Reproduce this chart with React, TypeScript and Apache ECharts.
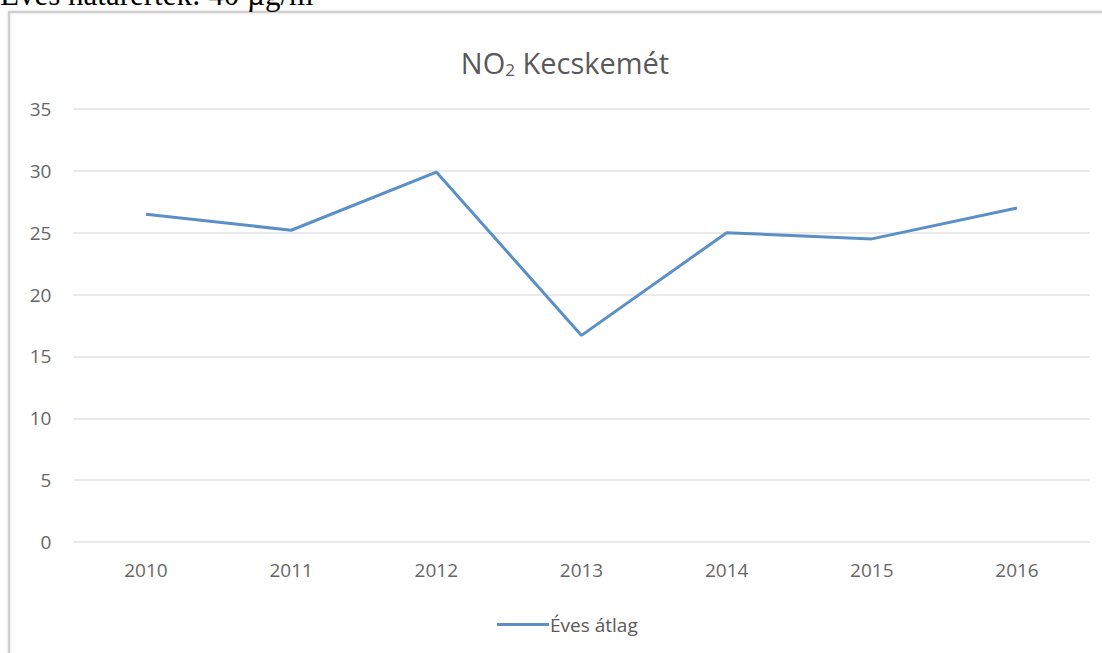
import React, { useEffect, useRef } from "react";
import * as echarts from "echarts";

const categories = ["2010", "2011", "2012", "2013", "2014", "2015", "2016"];
const evesAtlag = [26.5, 25.2, 29.9, 16.7, 25.0, 24.5, 27.0];
const yTicks = [0, 5, 10, 15, 20, 25, 30, 35];
const seriesName = "Éves átlag";
const headerText = "Éves határérték: 40 µg/m³";

export default function App() {
  const ref = useRef<HTMLDivElement>(null);
  useEffect(() => {
    if (!ref.current) return;
    const chart = echarts.init(ref.current, undefined, { renderer: "svg" });
    const font = "'Open Sans', 'Noto Sans', sans-serif";
    chart.setOption({
      animation: false,
      backgroundColor: "#ffffff",
      title: {
        text: "NO{sub|2} Kecskemét",
        left: 560,
        textAlign: "center",
        top: 42,
        textStyle: {
          fontFamily: font,
          fontSize: 29,
          fontWeight: "normal",
          color: "#595959",
          rich: {
            sub: { fontSize: 17, verticalAlign: "bottom", padding: [14, 0, 0, 0], color: "#595959", fontFamily: font },
          },
        },
      },
      graphic: [
        {
          type: "rect",
          shape: { x: 9, y: 12, width: 1200, height: 800 },
          style: { fill: "none", stroke: "#d0d0d0", lineWidth: 2, shadowBlur: 3, shadowColor: "rgba(0,0,0,0.15)" },
          silent: true,
        },
        {
          type: "text",
          left: 0,
          top: -21,
          style: {
            text: headerText,
            fontFamily: "'Liberation Serif', 'Times New Roman', serif",
            fontSize: 31,
            fill: "#000000",
          },
          silent: true,
        },
      ],
      legend: {
        data: [seriesName],
        left: 492,
        top: 610,
        itemWidth: 52,
        itemHeight: 3,
        itemGap: 4,
        icon: "rect",
        textStyle: { fontFamily: font, fontSize: 19, color: "#595959", padding: [0, 0, 0, -4] },
      },
      grid: { left: 73.4, right: 12.4, top: 109, bottom: 111 },
      xAxis: {
        type: "category",
        data: categories,
        boundaryGap: true,
        axisLine: { show: false },
        axisTick: { show: false },
        axisLabel: { fontFamily: font, fontSize: 19, color: "#666666", margin: 18 },
      },
      yAxis: {
        type: "value",
        min: yTicks[0],
        max: yTicks[yTicks.length - 1],
        interval: 5,
        axisLine: { show: false },
        axisTick: { show: false },
        axisLabel: { fontFamily: font, fontSize: 19, color: "#666666", margin: 22 },
        splitLine: { lineStyle: { color: "#e3e3e3", width: 1.5 } },
      },
      series: [
        {
          name: seriesName,
          type: "line",
          data: evesAtlag,
          symbol: "none",
          lineStyle: { color: "#5B8FC8", width: 3 },
          itemStyle: { color: "#5B8FC8" },
        },
      ],
    });
    return () => chart.dispose();
  }, []);
  return (
    <div
      ref={ref}
      style={{ position: "fixed", left: 0, top: 0, width: 1102, height: 653 }}
    />
  );
}
